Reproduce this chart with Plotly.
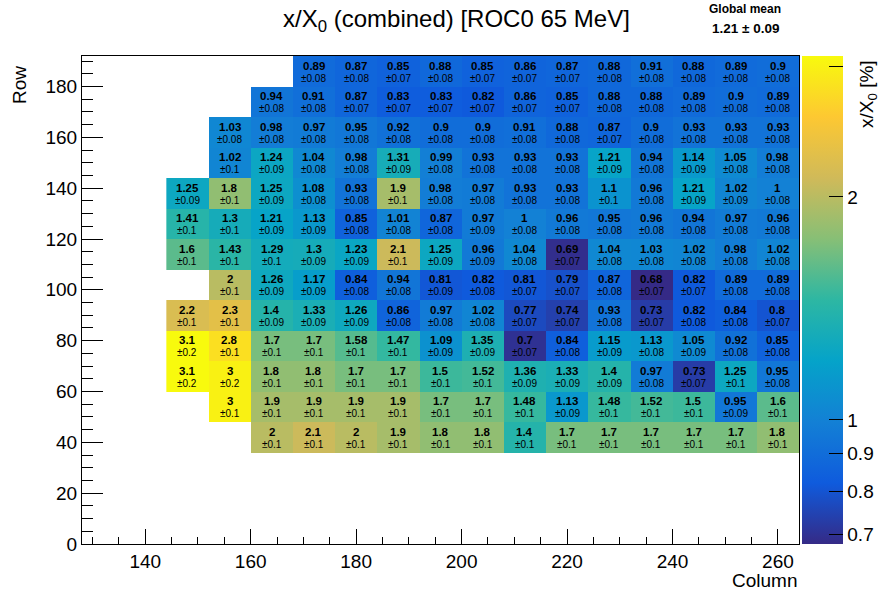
import numpy as np
import plotly.graph_objects as go

# Bin centers (columns: 8 wide from 144 to 264; rows: 12 tall from 36 to 192)
columns = [148, 156, 164, 172, 180, 188, 196, 204, 212, 220, 228, 236, 244, 252, 260]
rows = [42, 54, 66, 78, 90, 102, 114, 126, 138, 150, 162, 174, 186]

N = None
# values (x/X0 in %) per row, left to right
v042 = [N, N, 2, 2.1, 2, 1.9, 1.8, 1.8, 1.4, 1.7, 1.7, 1.7, 1.7, 1.7, 1.8]
v054 = [N, 3, 1.9, 1.9, 1.9, 1.9, 1.7, 1.7, 1.48, 1.13, 1.48, 1.52, 1.5, 0.95, 1.6]
v066 = [3.1, 3, 1.8, 1.8, 1.7, 1.7, 1.5, 1.52, 1.36, 1.33, 1.4, 0.97, 0.73, 1.25, 0.95]
v078 = [3.1, 2.8, 1.7, 1.7, 1.58, 1.47, 1.09, 1.35, 0.7, 0.84, 1.15, 1.13, 1.05, 0.92, 0.85]
v090 = [2.2, 2.3, 1.4, 1.33, 1.26, 0.86, 0.97, 1.02, 0.77, 0.74, 0.93, 0.73, 0.82, 0.84, 0.8]
v102 = [N, 2, 1.26, 1.17, 0.84, 0.94, 0.81, 0.82, 0.81, 0.79, 0.87, 0.68, 0.82, 0.89, 0.89]
v114 = [1.6, 1.43, 1.29, 1.3, 1.23, 2.1, 1.25, 0.96, 1.04, 0.69, 1.04, 1.03, 1.02, 0.98, 1.02]
v126 = [1.41, 1.3, 1.21, 1.13, 0.85, 1.01, 0.87, 0.97, 1, 0.96, 0.95, 0.96, 0.94, 0.97, 0.96]
v138 = [1.25, 1.8, 1.25, 1.08, 0.93, 1.9, 0.98, 0.97, 0.93, 0.93, 1.1, 0.96, 1.21, 1.02, 1]
v150 = [N, 1.02, 1.24, 1.04, 0.98, 1.31, 0.99, 0.93, 0.93, 0.93, 1.21, 0.94, 1.14, 1.05, 0.98]
v162 = [N, 1.03, 0.98, 0.97, 0.95, 0.92, 0.9, 0.9, 0.91, 0.88, 0.87, 0.9, 0.93, 0.93, 0.93]
v174 = [N, N, 0.94, 0.91, 0.87, 0.83, 0.83, 0.82, 0.86, 0.85, 0.88, 0.88, 0.89, 0.9, 0.89]
v186 = [N, N, N, 0.89, 0.87, 0.85, 0.88, 0.85, 0.86, 0.87, 0.88, 0.91, 0.88, 0.89, 0.9]

# uncertainties per row
e042 = [N, N, .1, .1, .1, .1, .1, .1, .1, .1, .1, .1, .1, .1, .1]
e054 = [N, .1, .1, .1, .1, .1, .1, .1, .1, .09, .1, .1, .1, .09, .1]
e066 = [.2, .2, .1, .1, .1, .1, .1, .1, .09, .09, .09, .08, .07, .1, .08]
e078 = [.2, .1, .1, .1, .1, .1, .09, .09, .07, .08, .09, .08, .09, .08, .08]
e090 = [.1, .1, .09, .09, .09, .08, .08, .08, .07, .07, .08, .07, .08, .08, .07]
e102 = [N, .1, .09, .09, .08, .08, .09, .08, .07, .07, .08, .07, .07, .08, .08]
e114 = [.1, .1, .1, .09, .09, .1, .09, .09, .08, .07, .08, .08, .08, .08, .08]
e126 = [.1, .1, .09, .09, .08, .08, .08, .09, .08, .08, .08, .08, .08, .08, .08]
e138 = [.09, .1, .09, .08, .08, .1, .08, .08, .08, .08, .1, .08, .09, .09, .08]
e150 = [N, .1, .09, .08, .08, .09, .08, .08, .08, .08, .09, .08, .09, .08, .08]
e162 = [N, .08, .08, .08, .08, .08, .08, .08, .08, .08, .07, .08, .08, .08, .08]
e174 = [N, N, .08, .08, .07, .07, .07, .07, .07, .07, .08, .08, .08, .08, .08]
e186 = [N, N, N, .08, .08, .07, .08, .07, .07, .07, .08, .08, .08, .08, .08]

values = [v042, v054, v066, v078, v090, v102, v114, v126, v138, v150, v162, v174, v186]
errors = [e042, e054, e066, e078, e090, e102, e114, e126, e138, e150, e162, e174, e186]

z_min, z_max = 0.68, 3.1
cbar_ticks = [0.7, 0.8, 0.9, 1, 2, 3]
cbar_labels = ["0.7", "0.8", "0.9", "1", "2", " "]

# ROOT kBird palette
bird_r = [0.2082, 0.0592, 0.0780, 0.0232, 0.1802, 0.5301, 0.8186, 0.9956, 0.9764]
bird_g = [0.1664, 0.3599, 0.5041, 0.6419, 0.7178, 0.7492, 0.7328, 0.7862, 0.9832]
bird_b = [0.5293, 0.8684, 0.8385, 0.7914, 0.6425, 0.4662, 0.3499, 0.1968, 0.0539]
colorscale = [[i / 8, f"rgb({int(r*255)},{int(g*255)},{int(b*255)})"]
              for i, (r, g, b) in enumerate(zip(bird_r, bird_g, bird_b))]

zlog = [[(np.log10(v) if v is not None else None) for v in row] for row in values]

FONT = "Liberation Sans, Arial, Helvetica, sans-serif"

L, T, R, B = 82, 56, 86, 50
W, H = 885, 594
PW, PH = W - L - R, H - T - B  # 717 x 488


def px(xp):  # window pixel x -> paper x
    return (xp - L) / PW


def py(yp):  # window pixel y -> paper y
    return (H - B - yp) / PH


fig = go.Figure()
fig.add_trace(go.Heatmap(
    x=columns, y=rows, z=zlog,
    zmin=np.log10(z_min), zmax=np.log10(z_max),
    colorscale=colorscale,
    hoverongaps=False,
    colorbar=dict(
        x=px(802), xanchor="left", xpad=0, ypad=0,
        y=0.5, yanchor="middle", len=1, lenmode="fraction",
        thickness=41, outlinewidth=0,
        tickvals=list(np.log10(cbar_ticks)), ticktext=cbar_labels,
        ticks="inside", ticklen=14, tickcolor="black", tickwidth=1,
        tickfont=dict(family=FONT, size=19, color="black"),
    ),
))

annotations = []
for yi, y in enumerate(rows):
    for xi, x in enumerate(columns):
        v = values[yi][xi]
        if v is None:
            continue
        e = errors[yi][xi]
        annotations.append(dict(x=x, y=y, xref="x", yref="y", text=f"<b>{v:g}</b>",
                                showarrow=False, yshift=5.5,
                                font=dict(family=FONT, size=11.5, color="black")))
        annotations.append(dict(x=x, y=y, xref="x", yref="y", text=f"±{e:g}",
                                showarrow=False, yshift=-7,
                                font=dict(family=FONT, size=10, color="black")))

annotations += [
    dict(xref="paper", yref="paper", x=px(456), y=py(20),
         text="x/X<sub>0</sub> (combined) [ROC0 65 MeV]", showarrow=False,
         xanchor="center", yanchor="middle", font=dict(family=FONT, size=24, color="black")),
    dict(xref="paper", yref="paper", x=px(745), y=py(9),
         text="<b>Global mean</b>", showarrow=False, xanchor="center", yanchor="middle",
         font=dict(family=FONT, size=12, color="black")),
    dict(xref="paper", yref="paper", x=px(745), y=py(28),
         text="<b>1.21 ± 0.09</b>", showarrow=False, xanchor="center", yanchor="middle",
         font=dict(family=FONT, size=13.5, color="black")),
    dict(xref="paper", yref="paper", x=px(19), y=py(64),
         text="Row", textangle=-90, showarrow=False, xanchor="center", yanchor="top",
         font=dict(family=FONT, size=19, color="black")),
    dict(xref="paper", yref="paper", x=1, y=py(580),
         text="Column", showarrow=False, xanchor="right", yanchor="middle",
         font=dict(family=FONT, size=19, color="black")),
    dict(xref="paper", yref="paper", x=px(868), y=py(58),
         text="x/X<sub>0</sub> [%]", textangle=-90, showarrow=False,
         xanchor="center", yanchor="top", font=dict(family=FONT, size=19, color="black")),
]

fig.update_layout(
    width=W, height=H,
    margin=dict(l=L, r=R, t=T, b=B, autoexpand=False),
    paper_bgcolor="white", plot_bgcolor="white",
    annotations=annotations,
    showlegend=False,
    xaxis=dict(range=[128, 264], tick0=0, dtick=20, ticks="inside", ticklen=15,
               tickcolor="black", showline=True, linecolor="black", linewidth=1,
               mirror=True, showgrid=False, zeroline=False, automargin=False,
               minor=dict(dtick=5, ticks="inside", ticklen=7, tickcolor="black", showgrid=False),
               tickfont=dict(family=FONT, size=19, color="black")),
    yaxis=dict(range=[0, 192], tick0=0, dtick=20, ticks="inside", ticklen=21,
               tickcolor="black", showline=True, linecolor="black", linewidth=1,
               mirror=True, showgrid=False, zeroline=False, automargin=False,
               minor=dict(dtick=5, ticks="inside", ticklen=11, tickcolor="black", showgrid=False),
               tickfont=dict(family=FONT, size=19, color="black")),
)

fig.write_html("out.html", config={"displayModeBar": False},
               post_script="document.body.style.margin='0';document.body.style.overflow='hidden';")
